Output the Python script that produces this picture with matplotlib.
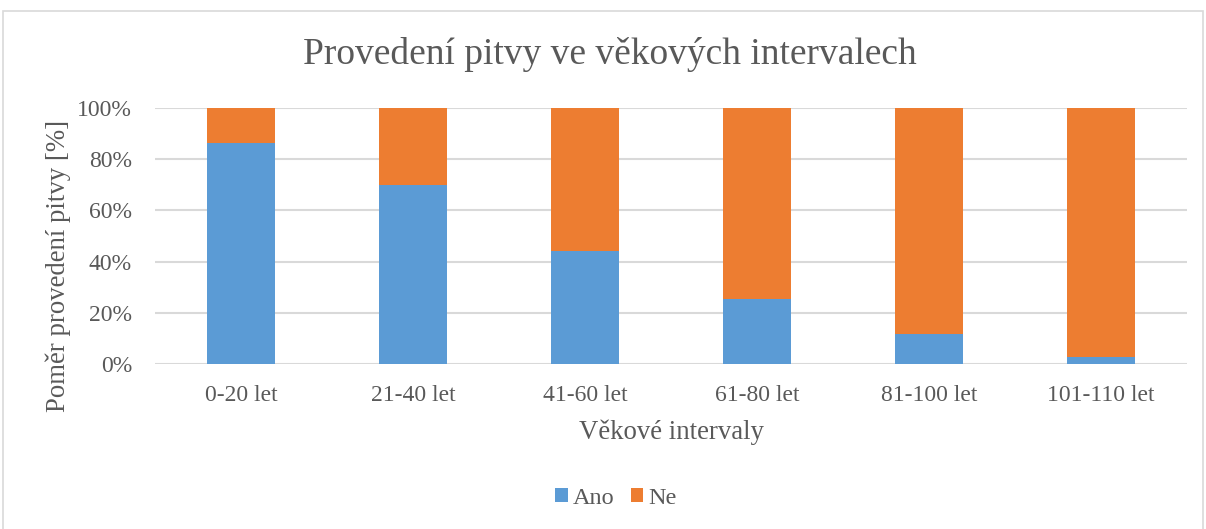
import matplotlib
matplotlib.use("Agg")
import matplotlib.pyplot as plt
from matplotlib.patches import Rectangle
import numpy as np

categories = ["0-20 let", "21-40 let", "41-60 let", "61-80 let", "81-100 let", "101-110 let"]
ano = [86.3, 69.8, 44.0, 25.3, 11.6, 2.6]
ne = [100 - v for v in ano]
yticks = [0, 20, 40, 60, 80, 100]
ytick_labels = ["0%", "20%", "40%", "60%", "80%", "100%"]

W, H = 1206, 529
fig = plt.figure(figsize=(W / 100, H / 100), dpi=100)
plt.rcParams['font.family'] = ['Liberation Serif', 'DejaVu Serif']
txt = "#595959"
blue = "#5B9BD5"
orange = "#ED7D31"
grid = "#D9D9D9"

fig.patches.append(Rectangle((3 / W, -0.1), 1200 / W, 1.1 - 11 / H, transform=fig.transFigure,
                             fill=False, edgecolor=grid, linewidth=1.2))

ax = fig.add_axes([155 / W, 1 - 364 / H, 1032 / W, 256 / H])
x = np.arange(len(categories))
ax.bar(x, ano, width=0.395, color=blue, label="Ano", zorder=3)
ax.bar(x, ne, bottom=ano, width=0.395, color=orange, label="Ne", zorder=3)
ax.set_xlim(-0.5, len(categories) - 0.5)
ax.set_ylim(0, 100)
ax.set_yticks(yticks)
ax.set_yticklabels(ytick_labels)
ax.set_xticks(x)
ax.set_xticklabels(categories)
ax.yaxis.grid(True, color=grid, linewidth=1.5, zorder=0)
for s in ax.spines.values():
    s.set_visible(False)
ax.tick_params(length=0, labelsize=17, labelcolor=txt)
ax.tick_params(axis='x', pad=15)
ax.tick_params(axis='y', pad=16.5)
fig.text(671 / W, 1 - 432 / H, "Věkové intervaly", ha="center", va="center",
         fontsize=19.3, color=txt)
fig.text(58 / W, 1 - 266 / H, "Poměr provedení pitvy [%]", ha="center", va="center",
         rotation=90, fontsize=19.3, color=txt)
fig.text(610 / W, 1 - 55 / H, "Provedení pitvy ve věkových intervalech", ha="center", va="center",
         fontsize=27, color=txt)
fig.legend(loc="center", bbox_to_anchor=(616 / W, 1 - 498 / H), ncol=2, frameon=False,
           fontsize=17.5, handlelength=0.5, handleheight=0.5, handletextpad=0.2, columnspacing=0.7,
           labelcolor=txt)
fig.savefig("out.png", dpi=100)
